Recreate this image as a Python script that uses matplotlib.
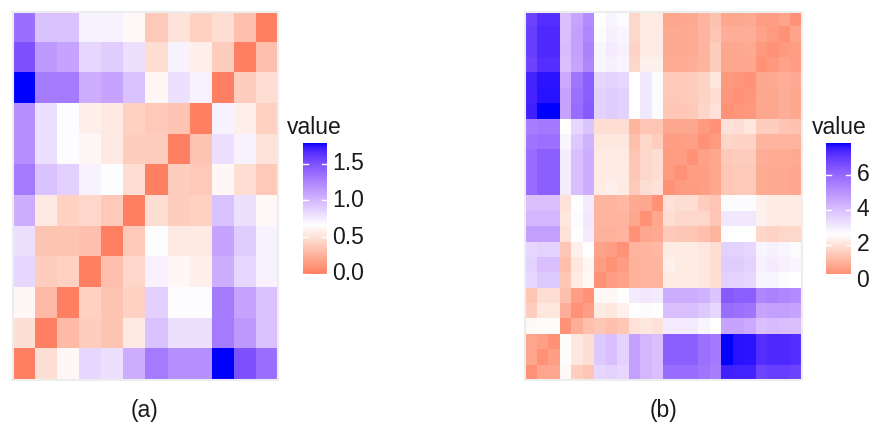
import numpy as np
import matplotlib
matplotlib.use("Agg")
import matplotlib.pyplot as plt
import matplotlib.colors as mcolors
import matplotlib.transforms as mtransforms

plt.rcParams['font.family'] = ['Liberation Sans', 'DejaVu Sans']

# Panel (a): 12 x 12 distance matrix, rows listed top to bottom as drawn
matrix_a = [
    [1.35, 0.95, 0.95, 0.72, 0.72, 0.63, 0.38, 0.52, 0.42, 0.48, 0.33, 0.00],
    [1.50, 1.15, 1.10, 0.85, 0.90, 0.80, 0.48, 0.72, 0.58, 0.40, 0.00, 0.33],
    [1.78, 1.30, 1.30, 1.05, 1.10, 0.95, 0.62, 0.80, 0.72, 0.00, 0.40, 0.48],
    [1.20, 0.80, 0.67, 0.58, 0.55, 0.42, 0.38, 0.35, 0.00, 0.72, 0.58, 0.42],
    [1.20, 0.80, 0.67, 0.62, 0.55, 0.40, 0.40, 0.00, 0.35, 0.80, 0.72, 0.52],
    [1.30, 0.95, 0.88, 0.72, 0.67, 0.48, 0.00, 0.40, 0.38, 0.62, 0.48, 0.38],
    [1.05, 0.55, 0.42, 0.45, 0.38, 0.00, 0.48, 0.40, 0.42, 0.95, 0.80, 0.63],
    [0.80, 0.35, 0.35, 0.33, 0.00, 0.38, 0.67, 0.55, 0.55, 1.10, 0.90, 0.72],
    [0.85, 0.40, 0.42, 0.00, 0.33, 0.45, 0.72, 0.62, 0.58, 1.05, 0.85, 0.72],
    [0.62, 0.30, 0.00, 0.42, 0.35, 0.42, 0.88, 0.67, 0.67, 1.30, 1.10, 0.95],
    [0.50, 0.00, 0.30, 0.40, 0.35, 0.55, 0.95, 0.80, 0.80, 1.30, 1.15, 0.95],
    [0.00, 0.50, 0.62, 0.85, 0.80, 1.05, 1.30, 1.20, 1.20, 1.78, 1.50, 1.35],
]

# Panel (b): 24 x 24 distance matrix, rows listed top to bottom as drawn
matrix_b = [
    [6.8, 7.2, 7.2, 4.0, 4.6, 5.2, 2.6, 2.8, 2.7, 1.8, 2.2, 2.2, 0.8, 0.8, 0.85, 1.05, 1.35, 0.8, 0.8, 0.85, 0.6, 0.6, 0.75, 0.35],
    [6.9, 7.3, 7.3, 4.0, 4.7, 5.3, 2.7, 2.9, 2.8, 1.8, 2.2, 2.2, 0.85, 0.85, 0.9, 1.05, 1.4, 0.95, 0.95, 0.95, 0.7, 0.55, 0.35, 0.75],
    [6.9, 7.3, 7.3, 4.1, 4.7, 5.4, 2.8, 3.0, 2.9, 1.7, 2.2, 2.2, 0.85, 0.85, 0.9, 1.1, 1.6, 0.8, 0.8, 0.85, 0.5, 0.35, 0.55, 0.6],
    [6.8, 7.2, 7.2, 4.0, 4.6, 5.3, 2.8, 2.9, 2.8, 1.8, 2.3, 2.3, 0.9, 0.9, 0.95, 1.1, 1.6, 0.8, 0.8, 0.8, 0.35, 0.5, 0.7, 0.6],
    [7.4, 7.6, 7.6, 4.5, 5.7, 6.2, 3.5, 3.6, 3.5, 2.6, 3.1, 2.7, 1.5, 1.5, 1.55, 1.7, 2.1, 0.5, 0.45, 0.35, 0.8, 0.85, 0.95, 0.85],
    [7.4, 7.65, 7.65, 4.6, 5.8, 6.2, 3.6, 3.7, 3.6, 2.6, 3.1, 2.7, 1.5, 1.5, 1.55, 1.7, 1.95, 0.45, 0.35, 0.45, 0.8, 0.8, 0.95, 0.8],
    [7.45, 7.8, 7.8, 4.6, 5.9, 6.3, 3.6, 3.7, 3.6, 2.6, 3.1, 2.7, 1.45, 1.45, 1.5, 1.75, 2.0, 0.35, 0.45, 0.5, 0.8, 0.8, 0.95, 0.8],
    [5.5, 5.6, 5.6, 2.6, 3.5, 3.9, 1.9, 1.9, 1.9, 1.1, 1.4, 1.4, 0.8, 0.8, 0.8, 0.55, 0.35, 2.0, 1.95, 2.1, 1.6, 1.6, 1.4, 1.35],
    [5.7, 5.8, 5.8, 2.8, 3.8, 4.3, 2.1, 2.1, 2.1, 1.3, 1.8, 1.6, 0.62, 0.62, 0.65, 0.35, 0.55, 1.75, 1.7, 1.7, 1.1, 1.1, 1.05, 1.05],
    [5.9, 6.2, 6.2, 3.0, 4.0, 4.4, 2.2, 2.2, 2.2, 1.4, 1.8, 1.9, 0.57, 0.6, 0.35, 0.65, 0.8, 1.5, 1.55, 1.55, 0.95, 0.9, 0.9, 0.85],
    [5.9, 6.2, 6.2, 3.0, 4.0, 4.4, 2.2, 2.2, 2.2, 1.45, 1.8, 1.9, 0.55, 0.35, 0.6, 0.62, 0.8, 1.45, 1.5, 1.5, 0.9, 0.85, 0.85, 0.8],
    [5.9, 6.2, 6.2, 3.0, 4.0, 4.4, 2.2, 2.3, 2.2, 1.5, 1.9, 2.0, 0.35, 0.55, 0.57, 0.62, 0.8, 1.45, 1.5, 1.5, 0.9, 0.85, 0.85, 0.8],
    [4.0, 4.0, 4.0, 2.0, 2.6, 3.0, 1.1, 1.1, 1.15, 0.85, 0.8, 0.35, 2.0, 1.9, 1.9, 1.6, 1.4, 2.7, 2.7, 2.7, 2.3, 2.2, 2.2, 2.2],
    [4.2, 4.2, 4.2, 2.1, 2.7, 3.1, 1.05, 1.05, 1.1, 0.8, 0.35, 0.8, 1.9, 1.8, 1.8, 1.8, 1.4, 3.1, 3.1, 3.1, 2.3, 2.2, 2.2, 2.2],
    [4.7, 4.7, 4.7, 2.0, 2.6, 3.0, 1.0, 1.0, 1.05, 0.35, 0.8, 0.85, 1.5, 1.45, 1.4, 1.3, 1.1, 2.6, 2.6, 2.6, 1.8, 1.7, 1.8, 1.8],
    [3.5, 3.6, 3.6, 1.45, 2.3, 2.6, 0.7, 0.6, 0.35, 1.05, 1.1, 1.15, 2.2, 2.2, 2.2, 2.1, 1.9, 3.6, 3.6, 3.5, 2.8, 2.9, 2.8, 2.7],
    [3.6, 4.0, 4.0, 1.3, 2.1, 2.45, 0.6, 0.35, 0.6, 1.0, 1.05, 1.1, 2.3, 2.2, 2.2, 2.1, 1.9, 3.7, 3.7, 3.6, 2.9, 3.0, 2.9, 2.8],
    [3.5, 3.8, 3.8, 1.45, 2.2, 2.5, 0.35, 0.6, 0.7, 1.0, 1.05, 1.1, 2.2, 2.2, 2.2, 2.1, 1.9, 3.6, 3.6, 3.5, 2.8, 2.8, 2.7, 2.6],
    [1.4, 1.9, 1.9, 1.3, 0.62, 0.35, 2.5, 2.45, 2.6, 3.0, 3.1, 3.0, 4.4, 4.4, 4.4, 4.3, 3.9, 6.3, 6.2, 6.2, 5.3, 5.4, 5.3, 5.2],
    [1.6, 2.1, 2.1, 0.95, 0.35, 0.62, 2.2, 2.1, 2.3, 2.6, 2.7, 2.6, 4.0, 4.0, 4.0, 3.8, 3.5, 5.9, 5.8, 5.7, 4.6, 4.7, 4.7, 4.6],
    [2.5, 2.55, 2.55, 0.35, 0.95, 1.3, 1.45, 1.3, 1.45, 2.0, 2.1, 2.0, 3.0, 3.0, 3.0, 2.8, 2.6, 4.6, 4.6, 4.5, 4.0, 4.1, 4.0, 4.0],
    [0.78, 0.62, 0.35, 2.55, 2.1, 1.9, 3.8, 4.0, 3.6, 4.7, 4.2, 4.0, 6.2, 6.2, 6.2, 5.8, 5.6, 7.8, 7.65, 7.6, 7.2, 7.3, 7.3, 7.2],
    [0.78, 0.35, 0.62, 2.55, 2.1, 1.9, 3.8, 4.0, 3.6, 4.7, 4.2, 4.0, 6.2, 6.2, 6.2, 5.8, 5.6, 7.8, 7.65, 7.6, 7.2, 7.3, 7.3, 7.2],
    [0.35, 0.78, 0.78, 2.5, 1.6, 1.4, 3.5, 3.6, 3.5, 4.7, 4.2, 4.0, 5.9, 5.9, 5.9, 5.7, 5.5, 7.45, 7.4, 7.4, 6.8, 6.9, 6.9, 6.8],
]

ticks_a = [0.0, 0.5, 1.0, 1.5]
ticks_b = [0, 2, 4, 6]
mid_a = 0.66
mid_b = 2.6

LOW = "#FF8062"
MID = "#FFFFFF"
HIGH = "#0000FF"
TEXT = "#1A1A1A"

RGB2XYZ = np.array([[0.4124, 0.3576, 0.1805],
                    [0.2126, 0.7152, 0.0722],
                    [0.0193, 0.1192, 0.9505]])
WHITE_XYZ = np.array([0.95047, 1.0, 1.08883])


def to_lab(color):
    rgb = np.array(mcolors.to_rgb(color))
    lin = np.where(rgb <= 0.04045, rgb / 12.92, ((rgb + 0.055) / 1.055) ** 2.4)
    xyz = RGB2XYZ @ lin / WHITE_XYZ
    f = np.where(xyz > 0.008856, np.cbrt(xyz), 7.787 * xyz + 16 / 116)
    return np.array([116 * f[1] - 16, 500 * (f[0] - f[1]), 200 * (f[1] - f[2])])


def from_lab(lab):
    fy = (lab[:, 0] + 16) / 116
    fx = fy + lab[:, 1] / 500
    fz = fy - lab[:, 2] / 200
    f = np.stack([fx, fy, fz], axis=1)
    xyz = np.where(f > 0.2069, f ** 3, (f - 16 / 116) / 7.787) * WHITE_XYZ
    lin = np.clip(xyz @ np.linalg.inv(RGB2XYZ).T, 0, 1)
    rgb = np.where(lin <= 0.0031308, 12.92 * lin, 1.055 * lin ** (1 / 2.4) - 0.055)
    return np.clip(rgb, 0, 1)


def gradient2(vmin, vmax, mid, n=256):
    """low/mid/high gradient in Lab space: LOW sits at 0, white at mid, blue at vmax."""
    v = np.linspace(vmin, vmax, n)[:, None]
    lo, wh, hi = to_lab(LOW), to_lab(MID), to_lab(HIGH)
    t1 = np.clip(v / mid, 0, 1)
    t2 = np.clip((v - mid) / (vmax - mid), 0, 1)
    lab = np.where(v <= mid, lo + (wh - lo) * t1, wh + (hi - wh) * t2)
    return mcolors.ListedColormap(from_lab(lab))


def draw_panel(fig, data, mid, ticks, fmt, heat_box, bar_box, title_xy, caption_xy, caption):
    data = np.array(data)
    vmin, vmax = data.min(), data.max()
    cmap = gradient2(vmin, vmax, mid)
    norm = mcolors.Normalize(vmin=vmin, vmax=vmax)

    ax = fig.add_axes(heat_box)
    ax.imshow(data, cmap=cmap, norm=norm, aspect='auto', interpolation='nearest')
    ax.set_xticks([])
    ax.set_yticks([])
    for sp in ax.spines.values():
        sp.set_color('#EDEDED')
        sp.set_linewidth(1.5)

    # legend bar drawn by hand, ggplot style (white ticks inside, labels right)
    cax = fig.add_axes(bar_box)
    grad = np.linspace(vmin, vmax, 256)[:, None]
    cax.imshow(grad, cmap=cmap, norm=norm, aspect='auto', origin='lower',
               extent=[0, 1, vmin, vmax], interpolation='bilinear')
    cax.set_xlim(0, 1)
    cax.set_ylim(vmin, vmax)
    cax.axis('off')
    trans = mtransforms.blended_transform_factory(cax.transAxes, cax.transData)
    label_trans = mtransforms.offset_copy(trans, fig=fig, x=4, units='points')
    for t in ticks:
        if vmin <= t <= vmax:
            cax.plot([0, 0.2], [t, t], color='white', lw=1, transform=trans)
            cax.plot([0.8, 1], [t, t], color='white', lw=1, transform=trans)
        cax.text(1.0, t, fmt.format(t), transform=label_trans, ha='left', va='center',
                 fontsize=16.5, color=TEXT, clip_on=False)

    fig.text(title_xy[0], title_xy[1], 'value', fontsize=16.5, color=TEXT,
             ha='left', va='center')
    fig.text(caption_xy[0], caption_xy[1], caption, fontsize=16.5, color=TEXT,
             ha='center', va='center')


def main():
    W, H = 877, 428
    fig = plt.figure(figsize=(W / 100, H / 100), dpi=100)

    def box(x0, y0, x1, y1):
        # pixel box (top-left origin) -> figure fraction
        return [x0 / W, 1 - y1 / H, (x1 - x0) / W, (y1 - y0) / H]

    draw_panel(fig, matrix_a, mid_a, ticks_a, '{:.1f}',
               box(12.5, 11.5, 277.5, 379.5), box(303, 143, 327, 274),
               (287 / W, 1 - 127 / H), (145 / W, 1 - 410 / H), '(a)')
    draw_panel(fig, matrix_b, mid_b, ticks_b, '{:.0f}',
               box(525, 11.5, 802, 380), box(826, 143, 851, 274),
               (812 / W, 1 - 127 / H), (663.5 / W, 1 - 410 / H), '(b)')

    fig.savefig('out.png', dpi=100, facecolor='white')


if __name__ == "__main__":
    main()
